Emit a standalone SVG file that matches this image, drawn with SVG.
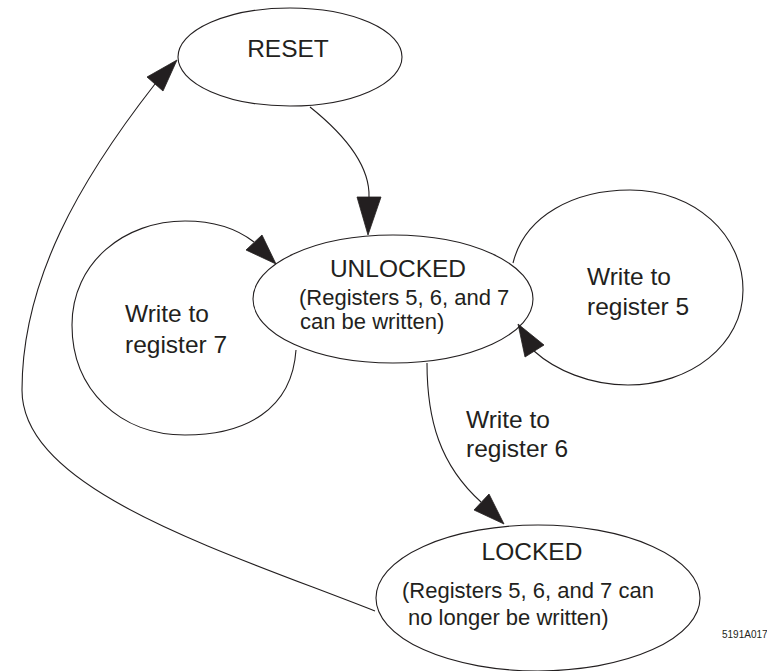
<svg xmlns="http://www.w3.org/2000/svg" width="767" height="671" viewBox="0 0 767 671">
<style>
.node{fill:none;stroke:#231f20;stroke-width:1.1}
.edge{fill:none;stroke:#231f20;stroke-width:1.1}
.head{fill:#231f20;stroke:#231f20;stroke-width:0.8;stroke-linejoin:miter}
.t{font-family:"Liberation Sans",Arial,sans-serif;fill:#231f20}
.big{font-size:24.5px}
.sm{font-size:22px}
.tag{font-size:10px}
</style>
<rect width="767" height="671" fill="#ffffff"/>
<g id="connectors">
<path class="edge" d="M310,107 C345,135 370,165 369,197"/>
<polygon class="head" points="368,235 357,197 381,197"/>
<path class="edge" d="M296,350 C292,410 245,435 185,435 C120,435 72,390 72,325 C72,262 125,221 185,221 C212,221 236,228 254,242"/>
<polygon class="head" points="276,264 246,250 262,235"/>
<path class="edge" d="M513,263 C525,215 575,190 630,190 C695,190 743,235 743,290 C743,345 690,385 628,385 C590,385 555,370 534,351"/>
<polygon class="head" points="518,324 525,357 544,345"/>
<path class="edge" d="M427,363 C427,420 440,465 481,502"/>
<polygon class="head" points="504,524 474,510 489,494"/>
<path class="edge" d="M375,611 C220,550 22,490 22,390 C22,280 80,180 155,84"/>
<polygon class="head" points="177,60 147,77 163,91"/>
</g>
<g id="reset">
<ellipse class="node" cx="290" cy="57" rx="112" ry="49"/>
<text class="t big" x="288" y="57" text-anchor="middle">RESET</text>
</g>
<g id="unlocked">
<ellipse class="node" cx="393" cy="299" rx="140" ry="64" fill="#ffffff"/>
<text class="t big" x="398" y="277" text-anchor="middle">UNLOCKED</text>
<text class="t sm" x="299" y="305">(Registers 5, 6, and 7</text>
<text class="t sm" x="300" y="329">can be written)</text>
</g>
<g id="write7">
<text class="t big" x="125" y="322">Write to</text>
<text class="t big" x="125" y="353">register 7</text>
</g>
<g id="write5">
<text class="t big" x="587" y="285">Write to</text>
<text class="t big" x="587" y="315">register 5</text>
</g>
<g id="write6">
<text class="t big" x="466" y="428">Write to</text>
<text class="t big" x="466" y="457">register 6</text>
</g>
<g id="locked">
<ellipse class="node" cx="538" cy="598" rx="162" ry="73"/>
<text class="t big" x="532" y="560" text-anchor="middle">LOCKED</text>
<text class="t sm" x="402" y="598">(Registers 5, 6, and 7 can</text>
<text class="t sm" x="408" y="625">no longer be written)</text>
</g>
<text class="t tag" x="722" y="638">5191A017</text>
</svg>
